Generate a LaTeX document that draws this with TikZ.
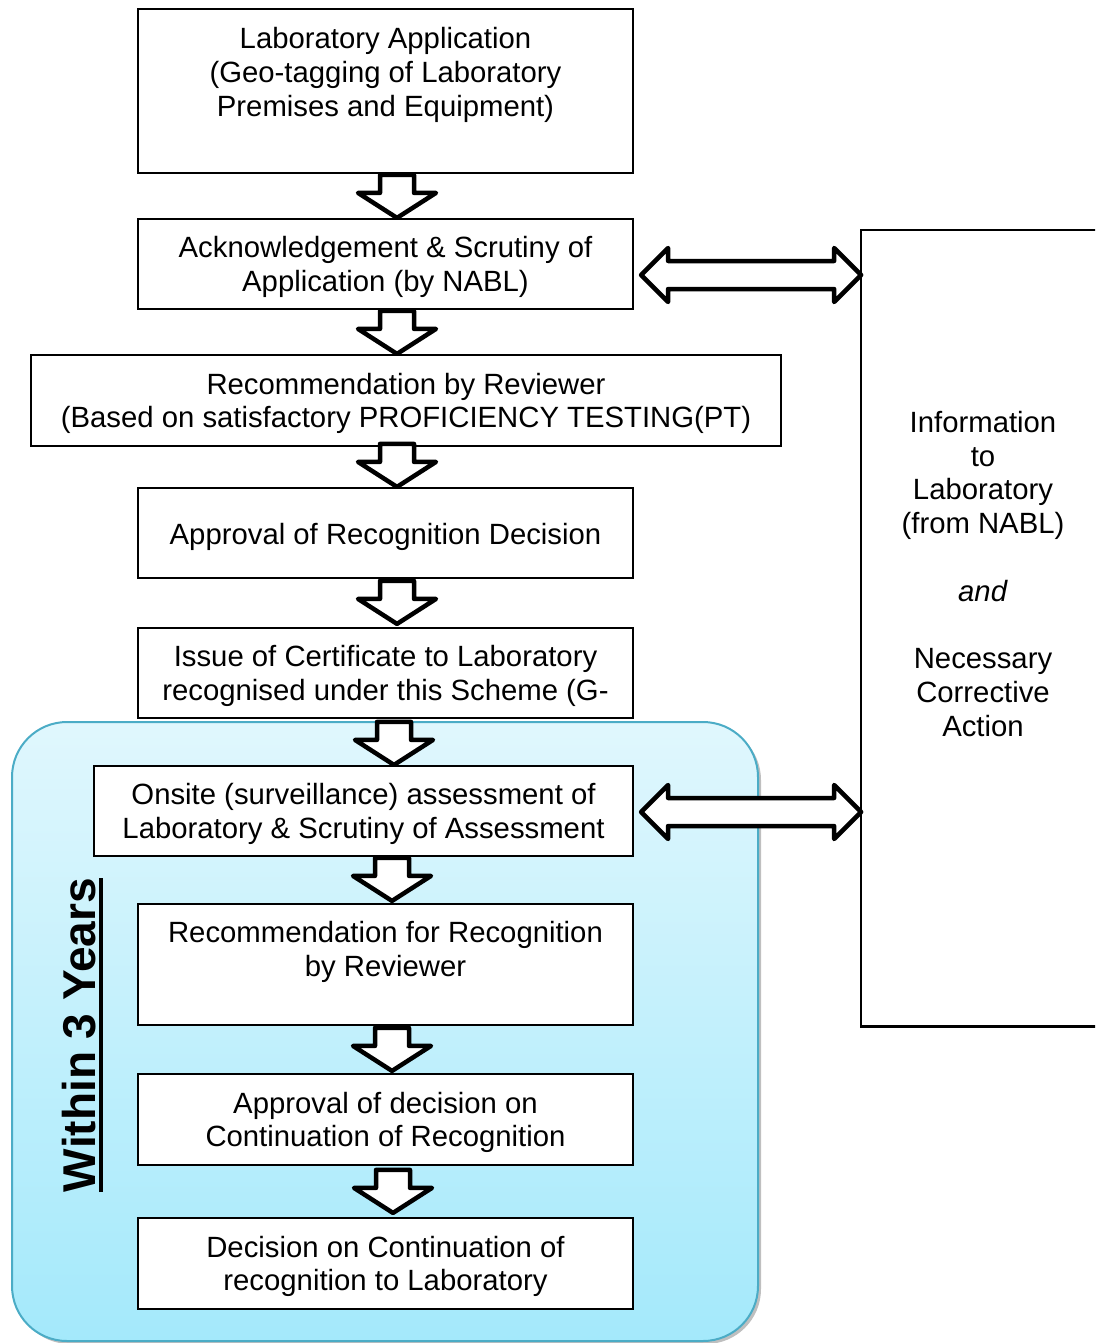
\documentclass[tikz,border=0pt]{standalone}
\usepackage{fontspec}
\setmainfont{Liberation Sans}
\usetikzlibrary{calc,shadows}

\newcommand\stepfont{\fontsize{29.3}{33.8}\selectfont}
\definecolor{paneltop}{RGB}{224,247,253}
\definecolor{panelbottom}{RGB}{164,233,251}
\definecolor{panelrim}{RGB}{75,172,198}

\begin{document}
\begin{tikzpicture}[x=1pt,y=-1pt,
  stepbox/.style={draw=black, line width=2.2pt, fill=white, inner sep=0pt},
  steptext/.style={inner sep=0pt, align=center, font=\stepfont},
  blockline/.style={draw=black, line width=4.5pt, fill=white, line join=round},
  pics/downarrow/.style={code={
    \draw[blockline] (0,0) -- (-39,-25) -- (-17,-25) -- (-17,-43)
      -- (17,-43) -- (17,-25) -- (39,-25) -- cycle;}},
  pics/twowayarrow/.style={code={
    \draw[blockline] (0,0) -- (27,-27) -- (27,-14) -- (193,-14) -- (193,-27)
      -- (220,0) -- (193,27) -- (193,14) -- (27,14) -- (27,27) -- cycle;}},
]
\useasboundingbox (0,0) rectangle (1095,1343);
\clip (0,0) rectangle (1095,1343);

% shaded panel for the three-year cycle
\path[draw=panelrim, line width=2pt, top color=paneltop, bottom color=panelbottom,
  rounded corners=55pt,
  drop shadow={shadow xshift=3pt, shadow yshift=-3pt, opacity=0.25, fill=black}]
  (12,722) rectangle (758,1341);

% process steps: frames
\node[stepbox, minimum width=495, minimum height=164] (b1) at (385.5,91) {};
\node[stepbox, minimum width=495, minimum height=90] (b2) at (385.5,264) {};
\node[stepbox, minimum width=750, minimum height=91] (b3) at (406,400.5) {};
\node[stepbox, minimum width=495, minimum height=90] (b4) at (385.5,533) {};
\node[stepbox, minimum width=495, minimum height=90] (b5) at (385.5,673) {};
\node[stepbox, minimum width=539, minimum height=90] (b6) at (363.5,811) {};
\node[stepbox, minimum width=495, minimum height=121] (b7) at (385.5,964.5) {};
\node[stepbox, minimum width=495, minimum height=91] (b8) at (385.5,1119.5) {};
\node[stepbox, minimum width=495, minimum height=91] (b9) at (385.5,1263.5) {};

% process steps: texts
\node[steptext] (t1) at (385.5,75) {Laboratory Application\\(Geo-tagging of Laboratory\\Premises and Equipment)};
\node[steptext] (t2) at ($(b2.center)+(0,3)$) {Acknowledgement \& Scrutiny of\\Application (by NABL)};
\node[steptext] (t3) at ($(b3.center)+(0,3)$) {Recommendation by Reviewer\\(Based on satisfactory PROFICIENCY TESTING(PT)};
\node[steptext] (t4) at ($(b4.center)+(0,3.5)$) {Approval of Recognition Decision};
\node[steptext] (t5) at ($(b5.center)+(0,3)$) {Issue of Certificate to Laboratory\\recognised under this Scheme (G-};
\node[steptext] (t6) at ($(b6.center)+(0,3)$) {Onsite (surveillance) assessment of\\Laboratory \& Scrutiny of Assessment};
\node[steptext] (t7) at (385.5,952) {Recommendation for Recognition\\by Reviewer};
\node[steptext] (t8) at ($(b8.center)+(0,3)$) {Approval of decision on\\Continuation of Recognition};
\node[steptext] (t9) at ($(b9.center)+(0,3)$) {Decision on Continuation of\\recognition to Laboratory};

% feedback box on the right
\node[stepbox, minimum width=250, minimum height=796.5] (rb) at (986,628.25) {};
\node[steptext] (rt) at (983,574) {Information\\to\\Laboratory\\(from NABL)\\[33.8pt]
  \textit{and}\\[33.8pt]Necessary\\Corrective\\Action};

% vertical label of the panel
\node[rotate=90, inner sep=0pt, anchor=base, font=\fontsize{46}{50}\selectfont\bfseries]
  (within) at (95,1035) {Within 3 Years};
\draw[line width=4pt] ([xshift=6pt]within.base west) -- ([xshift=6pt]within.base east);

% block arrows between the steps
\pic at (397,0 |- b2.north) {downarrow};
\pic at (397,0 |- b3.north) {downarrow};
\pic at (397,0 |- b4.north) {downarrow};
\pic at ([yshift=3pt]397,0 |- b5.north) {downarrow};
\pic at (394,0 |- b6.north) {downarrow};
\pic at ([yshift=2pt]392,0 |- b7.north) {downarrow};
\pic at ([yshift=2pt]392,0 |- b8.north) {downarrow};
\pic at ([yshift=4pt]393,0 |- b9.north) {downarrow};

% two-way exchanges with the laboratory
\pic at ($(b2.east)+(7,11)$) {twowayarrow};
\pic at ($(b6.east)+(7,1)$) {twowayarrow};
\end{tikzpicture}
\end{document}
